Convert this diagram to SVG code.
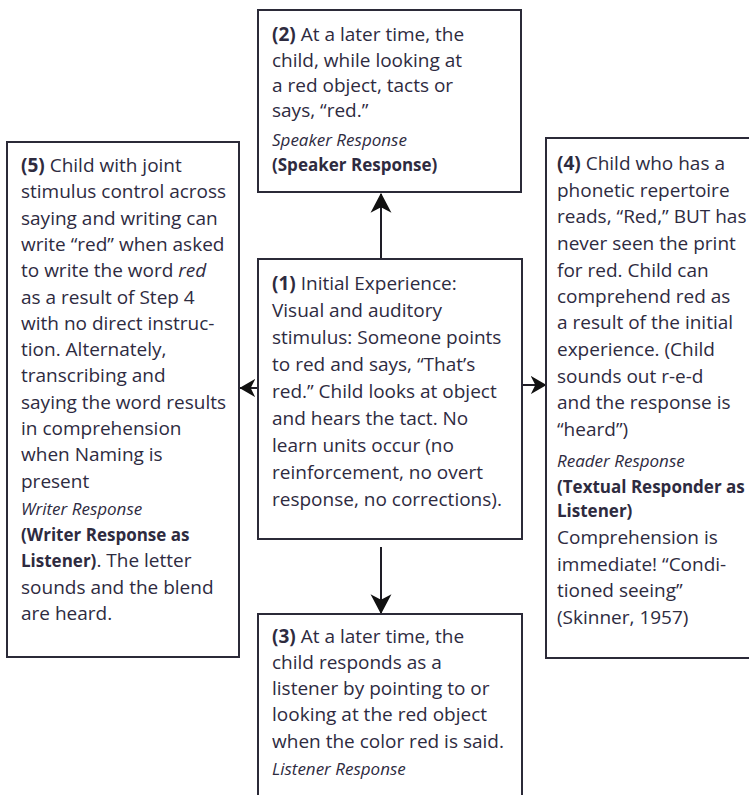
<svg xmlns="http://www.w3.org/2000/svg" width="749" height="795" viewBox="0 0 749 795">
<defs>
<style>
.box{fill:#ffffff;stroke:#2b2a38;stroke-width:2}
.t{font-family:"Open Sans","Noto Sans","Liberation Sans",sans-serif;font-size:19px;fill:#2e2b3f}
.i{font-style:italic;font-size:17px}
.b{font-weight:bold}
.bs{font-weight:bold;font-size:17px}
.con{stroke:#1e1d26;stroke-width:2;fill:none}
</style>
<marker id="ah" markerUnits="userSpaceOnUse" markerWidth="20" markerHeight="22" viewBox="0 -10 18 20" refX="17" refY="0" orient="auto">
<path d="M0,-9.5 L18,0 L0,9.5 L5,0 Z" fill="#111"/>
</marker>
<marker id="ahs" markerUnits="userSpaceOnUse" markerWidth="16" markerHeight="18" viewBox="0 -8 14 16" refX="13.5" refY="0" orient="auto">
<path d="M0,-8 L14,0 L0,8 L4,0 Z" fill="#111"/>
</marker>
</defs>
<rect width="749" height="795" fill="#ffffff"/>

<g id="connectors">
<line class="con" x1="381" y1="259" x2="381" y2="194" marker-end="url(#ah)"/>
<line class="con" x1="381" y1="547" x2="381" y2="613" marker-end="url(#ah)"/>
<line class="con" x1="257" y1="388" x2="240" y2="388" marker-end="url(#ahs)"/>
<line class="con" x1="522" y1="385" x2="546" y2="385" marker-end="url(#ahs)"/>
</g>

<g id="node2">
<rect class="box" x="258" y="10" width="263" height="182"/>
<text class="t" x="272" y="41"><tspan class="b">(2)</tspan> At a later time, the</text>
<text class="t" x="272" y="67">child, while looking at</text>
<text class="t" x="272" y="92">a red object, tacts or</text>
<text class="t" x="272" y="117">says, “red.”</text>
<text class="t i" x="272" y="146">Speaker Response</text>
<text class="t bs" x="272" y="171">(Speaker Response)</text>
</g>

<g id="node5">
<rect class="box" x="7" y="142" width="232" height="515"/>
<text class="t" x="21" y="172"><tspan class="b">(5)</tspan> Child with joint</text>
<text class="t" x="21" y="198">stimulus control across</text>
<text class="t" x="21" y="225">saying and writing can</text>
<text class="t" x="21" y="251">write “red” when asked</text>
<text class="t" x="21" y="277">to write the word <tspan font-style="italic">red</tspan></text>
<text class="t" x="21" y="304">as a result of Step 4</text>
<text class="t" x="21" y="330">with no direct instruc-</text>
<text class="t" x="21" y="356">tion. Alternately,</text>
<text class="t" x="21" y="382">transcribing and</text>
<text class="t" x="21" y="409">saying the word results</text>
<text class="t" x="21" y="435">in comprehension</text>
<text class="t" x="21" y="461">when Naming is</text>
<text class="t" x="21" y="488">present</text>
<text class="t i" x="21" y="515">Writer Response</text>
<text class="t bs" x="21" y="541">(Writer Response as</text>
<text class="t" x="21" y="567"><tspan class="bs">Listener)</tspan>. The letter</text>
<text class="t" x="21" y="594">sounds and the blend</text>
<text class="t" x="21" y="620">are heard.</text>
</g>

<g id="node1">
<rect class="box" x="258" y="259" width="264" height="280"/>
<text class="t" x="272" y="290"><tspan class="b">(1)</tspan> Initial Experience:</text>
<text class="t" x="272" y="317">Visual and auditory</text>
<text class="t" x="272" y="344">stimulus: Someone points</text>
<text class="t" x="272" y="371">to red and says, “That’s</text>
<text class="t" x="272" y="398">red.” Child looks at object</text>
<text class="t" x="272" y="425">and hears the tact. No</text>
<text class="t" x="272" y="452">learn units occur (no</text>
<text class="t" x="272" y="479">reinforcement, no overt</text>
<text class="t" x="272" y="506">response, no corrections).</text>
</g>

<g id="node4">
<rect class="box" x="546" y="138" width="220" height="520"/>
<text class="t" x="557" y="170"><tspan class="b">(4)</tspan> Child who has a</text>
<text class="t" x="557" y="197">phonetic repertoire</text>
<text class="t" x="557" y="223">reads, “Red,” BUT has</text>
<text class="t" x="557" y="250">never seen the print</text>
<text class="t" x="557" y="277">for red. Child can</text>
<text class="t" x="557" y="303">comprehend red as</text>
<text class="t" x="557" y="329">a result of the initial</text>
<text class="t" x="557" y="356">experience. (Child</text>
<text class="t" x="557" y="383">sounds out r-e-d</text>
<text class="t" x="557" y="409">and the response is</text>
<text class="t" x="557" y="436">“heard”)</text>
<text class="t i" x="557" y="467">Reader Response</text>
<text class="t bs" x="557" y="493">(Textual Responder as</text>
<text class="t bs" x="557" y="517">Listener)</text>
<text class="t" x="557" y="544">Comprehension is</text>
<text class="t" x="557" y="571">immediate! “Condi-</text>
<text class="t" x="557" y="597">tioned seeing”</text>
<text class="t" x="557" y="624">(Skinner, 1957)</text>
</g>

<g id="node3">
<rect class="box" x="258" y="614" width="264" height="200"/>
<text class="t" x="272" y="643"><tspan class="b">(3)</tspan> At a later time, the</text>
<text class="t" x="272" y="669">child responds as a</text>
<text class="t" x="272" y="695">listener by pointing to or</text>
<text class="t" x="272" y="721">looking at the red object</text>
<text class="t" x="272" y="748">when the color red is said.</text>
<text class="t i" x="272" y="775">Listener Response</text>
</g>
</svg>
